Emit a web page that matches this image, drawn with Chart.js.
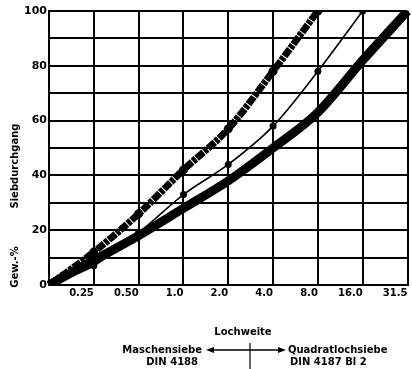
<!DOCTYPE html>
<html>
<head>
<meta charset="utf-8">
<script src="https://cdn.jsdelivr.net/npm/chart.js@4/dist/chart.umd.min.js"></script>
<style>
	html,body{margin:0;padding:0;background:#fff;}
	#wrap{width:412px;height:369px;position:relative;}
</style>
</head>
<body>
<div id="wrap"><canvas id="graphique"></canvas></div>
<script>
//Lochweite (Siebe), l'abscisse
var lochweite = ['0', '0.25', '0.50', '1.0', '2.0', '4.0', '8.0', '16.0', '31.5'];

//Siebdurchgang en Gew.-%
var kurveOben = [0, 12, 26, 42, 57, 78, 100, null, null];   //bande tachetee du haut
var kurveMitte = [0, 7, 19, 33, 44, 58, 78, 100, null];     //ligne avec points
var kurveUnten = [0, 9, 18, 28, 38, 50, 63, 82, 100];       //bande epaisse du bas

//les graduations de l'ordonnee
var yMax = 100;
var yPas = 10;

var police = '"DejaVu Sans", sans-serif';

//Points noirs sur les courbes (pas a l'origine)
function rayons(tab, r){
	return tab.map(function(v, i){ return i === 0 ? 0 : r; });
}

//une serie de courbe, pour ne pas tout repeter
function courbe(tab, couleur, largeur, tirets, r){
	return {
		data : tab,
		borderColor : couleur,
		borderWidth : largeur,
		borderDash : tirets,
		pointRadius : r ? rayons(tab, r) : 0,
		pointBackgroundColor : '#000',
		pointBorderWidth : 0,
		cubicInterpolationMode : 'monotone',
		fill : false
	};
}

//Les textes autour du graphique
var textes = {
	id : 'textes',
	afterDraw : function(chart){
		var ctx = chart.ctx;
		ctx.save();
		ctx.fillStyle = '#000';
		ctx.strokeStyle = '#000';

		//titre de l'ordonnee, tourne
		ctx.font = 'bold 10px ' + police;
		ctx.textAlign = 'center';
		ctx.textBaseline = 'middle';
		ctx.save();
		ctx.translate(15, 166);
		ctx.rotate(-Math.PI / 2);
		ctx.fillText('Siebdurchgang', 0, 0);
		ctx.restore();
		ctx.save();
		ctx.translate(15, 267);
		ctx.rotate(-Math.PI / 2);
		ctx.fillText('Gew.-%', 0, 0);
		ctx.restore();

		//Lochweite et les deux sortes de siebe
		ctx.font = 'bold 10px ' + police;
		ctx.fillText('Lochweite', 243, 332);
		ctx.textAlign = 'right';
		ctx.fillText('Maschensiebe', 202, 350);
		ctx.fillText('DIN 4188', 198, 362);
		ctx.textAlign = 'left';
		ctx.fillText('Quadratlochsiebe', 288, 350);
		ctx.fillText('DIN 4187 Bl 2', 290, 362);

		//la fleche
		ctx.lineWidth = 1.5;
		ctx.beginPath();
		ctx.moveTo(212, 350);
		ctx.lineTo(280, 350);
		ctx.stroke();
		ctx.beginPath();
		ctx.moveTo(206, 350); ctx.lineTo(214, 347); ctx.lineTo(214, 353); ctx.closePath();
		ctx.moveTo(286, 350); ctx.lineTo(278, 347); ctx.lineTo(278, 353); ctx.closePath();
		ctx.fill();
		ctx.lineWidth = 1.2;
		ctx.beginPath();
		ctx.moveTo(250, 343);
		ctx.lineTo(250, 369);
		ctx.stroke();
		ctx.restore();
	}
};

var ctx = document.getElementById('graphique').getContext('2d');

var data = {
	labels : lochweite,
	datasets : [
		courbe(kurveUnten, '#000', 9, [], 0),
		courbe(kurveUnten, '#fff', 1.5, [2, 6, 1, 5], 0),
		courbe(kurveMitte, '#000', 1.6, [], 3.5),
		courbe(kurveOben, '#000', 7, [9, 1, 4, 1], 4.5),
		courbe(kurveOben, '#fff', 2.5, [1, 2, 2, 4, 1, 3], 0)
	]
};

var options = {
	responsive : false,
	animation : false,
	layout : {padding : {top : 11, right : 1, left : 0, bottom : 0}},
	plugins : {legend : {display : false}, tooltip : {enabled : false}},
	scales : {
		x : {
			type : 'category',
			offset : false,
			grid : {color : '#000', lineWidth : 2, drawTicks : false},
			border : {color : '#000', width : 2},
			ticks : {
				color : '#000',
				font : {family : police, size : 10, weight : 'bold'},
				align : 'end',
				padding : 2,
				maxRotation : 0,
				autoSkip : false,
				callback : function(v, i){ return i === 0 ? '' : lochweite[i]; }
			},
			afterFit : function(scale){ scale.height = 369 - 284 - 1; }
		},
		y : {
			min : 0,
			max : yMax,
			grid : {color : '#000', lineWidth : 2, drawTicks : false},
			border : {color : '#000', width : 2},
			ticks : {
				stepSize : yPas,
				color : '#000',
				font : {family : police, size : 11, weight : 'bold'},
				padding : 2,
				callback : function(v){ return v % 20 === 0 ? v : ''; }
			},
			afterFit : function(scale){ scale.width = 49; }
		}
	}
};

var config = {
	type : 'line',
	data : data,
	options : options,
	plugins : [textes]
};

var canvas = document.getElementById('graphique');
canvas.width = 412;
canvas.height = 369;
var graph = new Chart(ctx, config);
</script>
</body>
</html>
